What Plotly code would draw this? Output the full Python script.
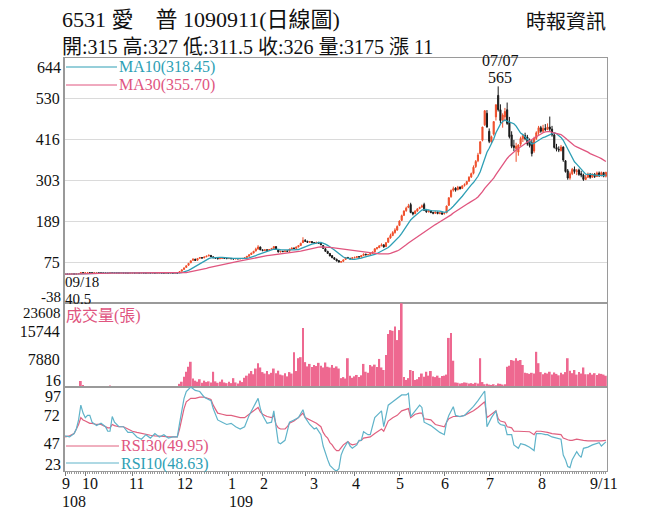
import pandas as pd
import plotly.graph_objects as go
from plotly.subplots import make_subplots

# page is 656x525; the browser puts the figure 8px in from the top-left corner
PAGE_OFF = 8
W, H = 656 - PAGE_OFF, 525 - PAGE_OFF
ML, MR, MT, MB = 64 - PAGE_OFF, 49, 58 - PAGE_OFF, 54

# ---------------- data ----------------
month_labels = ["9", "10", "11", "12", "1", "2", "3", "4", "5", "6", "7", "8"]
month_start_idx = [0, 9, 30, 51, 73, 88, 107, 129, 149, 169, 189, 212]
year_labels = ["108", "109"]
year_idx = [0, 73]
last_label = "9/11"

open_ = [
    41.5, 42.5, 42.0, 42.8, 43.0, 42.6, 43.2, 44.0, 46.5,
    45.8, 46.0, 46.5, 46.2, 45.8, 46.0, 46.3, 46.0, 45.7, 45.5, 45.2, 45.0, 46.8, 46.5, 46.2, 46.0, 45.8, 46.0, 45.6, 45.5, 45.3,
    45.5, 45.6, 45.4, 45.5, 45.3, 45.6, 45.4, 45.2, 45.5, 45.3, 45.4, 45.2, 45.3, 45.5, 45.2, 45.0, 45.3, 45.1, 45.2, 45.0, 45.2,
    46.0, 50.5, 55.5, 61.0, 67.0, 74.0, 81.0, 84.0, 81.0, 86.5, 88.5, 87.5, 90.5, 93.0, 94.5, 90.5, 88.0, 86.5, 85.0, 86.2, 87.5, 86.0,
    85.5, 86.0, 85.0, 84.5, 85.5, 84.8, 85.2, 86.0, 88.5, 92.0, 97.0, 101.0, 106.5, 112.0, 118.0,
    110, 108, 110, 109, 111, 114, 119, 111, 104, 106, 105, 107, 106, 112, 115, 114, 118, 122, 130,
    136, 134, 131, 133, 130, 129, 131, 128, 122, 113, 106, 100, 94, 88, 84, 80, 76, 78, 83, 89, 86, 85,
    88, 89, 91, 90, 94, 98, 96, 97, 100, 104, 113, 116, 121, 124, 119, 131, 143, 150, 158, 165,
    178, 192, 206, 219, 228, 236, 214, 211, 218, 225, 229, 236, 221, 216, 219, 214, 212, 215, 211, 213,
    211, 213, 234, 258, 276, 282, 277, 285, 281, 289, 293, 301, 313, 323, 342, 358, 378, 415, 458, 490,
    440, 410, 432, 480, 540, 500, 470, 480, 500, 465, 430, 400, 392, 382, 404, 420, 428, 424, 412, 408, 385, 420, 436,
    450, 440, 448, 445, 452, 446, 430, 395, 390, 386, 396, 358, 330, 310, 322, 334, 328, 332, 322, 318, 306,
    312, 320, 312, 320, 314, 324, 316, 325, 315,
]
high = [
    43.0, 42.8, 43.2, 43.5, 43.2, 43.6, 44.5, 47.0, 46.8,
    46.3, 46.8, 46.7, 46.4, 46.3, 46.6, 46.5, 46.2, 45.9, 45.7, 45.5, 47.2, 47.0, 46.7, 46.4, 46.2, 46.3, 46.2, 45.8, 45.7, 45.7,
    45.8, 45.8, 45.7, 45.6, 45.8, 45.8, 45.6, 45.7, 45.6, 45.6, 45.5, 45.5, 45.7, 45.6, 45.4, 45.5, 45.4, 45.4, 45.3, 45.4, 45.4,
    49.5, 54.4, 59.8, 65.8, 72.4, 79.6, 86.0, 85.0, 87.0, 90.0, 89.5, 91.0, 93.5, 96.5, 95.5, 91.5, 88.5, 87.0, 87.0, 88.5, 88.0, 86.5,
    86.5, 86.2, 85.5, 86.0, 85.8, 85.8, 86.5, 88.5, 93.0, 97.0, 102.0, 107.0, 116.0, 123.0, 119.0,
    111, 111, 111, 112, 115, 120, 120, 112, 107, 107, 108, 108, 113, 116, 116, 119, 123, 130, 145,
    140, 135, 134, 134, 131, 132, 132, 129, 123, 114, 107, 101, 95, 89, 85, 81, 79, 83, 90, 90, 88, 89,
    91, 92, 92, 95, 100, 99, 98, 101, 105, 114, 118, 123, 128, 125, 131, 143, 155, 162, 170, 178,
    192, 208, 220, 230, 238, 241, 216, 220, 226, 230, 236, 241, 224, 221, 220, 216, 217, 216, 215, 214,
    214, 233, 256, 278, 286, 284, 288, 286, 290, 295, 302, 315, 325, 345, 360, 380, 411, 452, 499, 499,
    448, 428, 467, 514, 565, 515, 490, 505, 520, 480, 440, 416, 408, 404, 425, 432, 436, 430, 420, 416, 425, 440, 455,
    455, 458, 460, 462, 481, 455, 436, 405, 398, 402, 398, 360, 335, 328, 338, 342, 335, 336, 330, 322, 318,
    325, 324, 323, 324, 328, 328, 328, 327, 327,
]
low = [
    40.5, 41.6, 41.8, 42.5, 42.3, 42.5, 43.0, 44.0, 45.5,
    45.5, 45.8, 46.0, 45.5, 45.6, 45.8, 45.8, 45.5, 45.2, 45.0, 44.8, 44.8, 46.2, 46.0, 45.8, 45.5, 45.6, 45.4, 45.3, 45.1, 45.1,
    45.3, 45.2, 45.2, 45.1, 45.1, 45.2, 45.0, 45.0, 45.1, 45.1, 45.0, 45.0, 45.1, 45.0, 44.8, 44.8, 44.9, 44.9, 44.8, 44.8, 44.9,
    45.8, 50.0, 55.0, 60.5, 66.5, 73.0, 79.5, 79.0, 80.5, 85.5, 86.0, 87.0, 90.0, 92.5, 90.0, 87.5, 85.5, 84.0, 84.5, 85.8, 85.5, 84.8,
    85.0, 84.5, 84.0, 84.3, 84.3, 84.5, 84.8, 85.5, 88.0, 91.5, 96.0, 100.5, 106.0, 111.0, 109.0,
    106, 107, 108, 108, 110, 113, 111, 103, 103, 104, 104, 105, 105, 111, 113, 113, 117, 121, 129,
    132, 130, 130, 129, 127, 128, 127, 123, 113, 104, 99, 92, 87, 82, 78, 75, 74, 76, 82, 85, 83, 84,
    86, 88, 89, 89, 93, 95, 95, 96, 99, 103, 111, 115, 120, 116, 118, 130, 141, 148, 155, 163,
    176, 190, 204, 216, 226, 212, 206, 209, 216, 223, 227, 218, 213, 214, 212, 209, 210, 209, 209, 207,
    208, 212, 232, 255, 272, 272, 276, 278, 280, 286, 290, 300, 310, 320, 338, 354, 376, 412, 455, 450,
    407, 405, 428, 470, 495, 462, 450, 468, 458, 420, 393, 385, 355, 372, 398, 410, 415, 400, 395, 370, 380, 416, 430,
    436, 436, 440, 443, 440, 425, 392, 384, 382, 384, 355, 325, 305, 305, 318, 322, 318, 316, 312, 302, 304,
    310, 308, 310, 310, 313, 313, 315, 312, 311.5,
]
close = [
    42.5, 42.0, 42.8, 43.0, 42.6, 43.2, 44.0, 46.5, 45.8,
    46.0, 46.5, 46.2, 45.8, 46.0, 46.3, 46.0, 45.7, 45.5, 45.2, 45.0, 46.8, 46.5, 46.2, 46.0, 45.8, 46.0, 45.6, 45.5, 45.3, 45.5,
    45.6, 45.4, 45.5, 45.3, 45.6, 45.4, 45.2, 45.5, 45.3, 45.4, 45.2, 45.3, 45.5, 45.2, 45.0, 45.3, 45.1, 45.2, 45.0, 45.2, 45.1,
    49.5, 54.4, 59.8, 65.8, 72.4, 79.6, 84.0, 80.5, 86.0, 88.5, 87.0, 90.0, 92.5, 95.0, 91.0, 88.0, 86.5, 85.0, 86.0, 87.5, 86.0, 85.5,
    86.0, 85.0, 84.5, 85.5, 84.8, 85.2, 86.0, 88.0, 92.0, 96.5, 101.0, 106.0, 112.0, 118.0, 110.0,
    108, 110, 109, 111, 114, 119, 112, 104, 106, 105, 107, 106, 112, 115, 114, 118, 122, 128, 136,
    134, 131, 133, 130, 129, 131, 128, 124, 114, 106, 100, 93, 88, 84, 79, 76, 77, 82, 88, 86, 85, 88,
    89, 91, 90, 94, 98, 96, 97, 100, 104, 113, 116, 121, 124, 118, 130, 143, 150, 158, 165, 175,
    190, 205, 218, 226, 232, 214, 210, 218, 224, 228, 232, 220, 216, 218, 214, 212, 215, 211, 213, 210,
    212, 232, 255, 275, 280, 276, 284, 280, 288, 292, 300, 312, 322, 340, 356, 374, 411, 452, 497, 452,
    412, 425, 467, 514, 500, 470, 485, 495, 462, 425, 398, 395, 398, 402, 420, 428, 420, 405, 400, 378, 420, 436, 450,
    440, 448, 445, 452, 446, 430, 395, 390, 388, 396, 360, 328, 310, 322, 334, 328, 330, 320, 318, 306, 312,
    320.5, 312, 320, 314, 324, 316, 325, 315, 326,
]
volume = [
    120, 80, 150, 100, 90, 140, 300, 1700, 600,
    250, 300, 180, 120, 150, 200, 140, 110, 100, 90, 120, 420, 260, 150, 120, 100, 140, 90, 80, 100, 110,
    90, 70, 80, 60, 100, 80, 70, 90, 60, 70, 60, 80, 90, 60, 50, 70, 60, 60, 50, 70, 60,
    900, 1500, 2900, 4300, 5700, 7100, 2400, 1800, 1500, 2200, 1200, 1800, 1400, 1600, 1300, 4300, 1600, 1200, 1500, 2100, 1300, 1100,
    1500, 1100, 2500, 1300, 1000, 1800, 1400, 2600, 3200, 3800, 4500, 3600, 5200, 6700, 5500,
    4200, 3800, 4500, 3600, 4000, 5200, 3900, 4600, 3500, 3300, 3900, 3000, 4200, 3800, 9800, 4500, 8100, 8400, 16600,
    7000, 5800, 6500, 5600, 6200, 5900, 6800, 6000, 5500, 6900, 5700, 5500, 6200, 5400, 5800, 5200, 2500, 2800, 2400, 8100, 3200, 2600,
    3000, 3400, 2800, 3300, 6500, 4300, 4000, 6200, 5800, 6300, 5600, 7900, 5500, 4800, 9000, 14900, 16000, 15800, 17000, 13200,
    16000, 23550, 2800, 2000, 2500, 4800, 4500, 2000, 2200, 2800, 3800, 2900, 4300, 3200, 4500, 3000, 2800, 3200, 2600, 3100,
    3200, 3500, 13800, 15200, 7400, 1300, 1200, 1000, 1100, 1300, 1200, 1000, 1100, 900, 1200, 1000, 8100, 1400, 800, 900,
    700, 600, 800, 500, 1000, 900, 700, 800, 5700, 6000, 7600, 7400, 8100, 7400, 7600, 6200, 4000, 3900, 3700, 4000, 3800, 9900, 6700,
    4200, 3600, 4000, 3800, 4300, 3500, 4100, 3700, 3300, 4000, 3600, 4200, 8100, 4600, 3900, 4800, 3500, 4200, 3800, 5500, 3600,
    3600, 4000, 3500, 3900, 3400, 3800, 3700, 3500, 3175,
]

rsi_idx = [0, 2, 4, 5, 6, 7, 8, 9, 10, 11, 12, 14, 16, 18, 19, 20, 21, 22, 24, 26, 28, 30, 32, 34, 36, 38, 40, 42, 44, 46, 48, 50,
           51, 52, 53, 54, 56, 58, 60, 62, 64, 65, 66, 67, 68, 70, 72, 74, 76, 78, 80, 82, 84, 86, 87, 88, 90, 92, 93, 94, 95, 96, 98, 99,
           100, 102, 104, 106, 107, 109, 111, 112, 114, 115, 116, 117, 118, 119, 120, 121, 122, 123, 124, 126, 127, 128, 130, 131, 132, 133,
           135, 136, 138, 140, 141, 142, 143, 144, 146, 148, 150, 152, 153, 154, 156, 158, 159, 160, 162, 163, 165, 167, 169, 170, 171, 173,
           174, 176, 178, 180, 182, 184, 186, 187, 188, 190, 192, 193, 194, 196, 197, 199, 200, 202, 203, 205, 207, 209, 210, 212, 214, 215,
           217, 219, 221, 222, 223, 224, 225, 226, 228, 229, 230, 231, 233, 235, 237, 238, 239, 240, 241]
rsi10 = [54, 53, 56, 60, 68, 81, 74, 70, 72, 72, 66, 63, 65, 62, 58, 58, 71, 66, 62, 62, 57, 57, 53, 51, 55, 52, 56, 53, 55, 52, 53, 53,
         65, 78, 87, 93, 97, 94, 93, 88, 86, 85, 78, 72, 68, 66, 64, 65, 62, 60, 62, 72, 80, 87, 78, 72, 65, 66, 76, 61, 48, 47, 50, 58,
         66, 68, 70, 77, 70, 64, 60, 61, 55, 45, 38, 33, 28, 26, 24, 23, 25, 37, 42, 49, 45, 43, 46, 50, 50, 57.6,
         55, 55, 70, 74, 76, 62, 72, 81, 84, 87, 90, 90, 91.4, 71, 76, 81, 79, 66, 64, 63, 60, 57, 55, 66, 72, 79.6,
         72, 71, 72, 76, 80, 85, 90, 93.5, 62, 70, 76, 66, 64, 63, 55, 55, 46, 43, 47, 46, 44, 41, 56, 56, 55, 55,
         53, 52, 51, 37, 33, 27, 26, 33, 40, 37, 35, 43, 44, 46, 47, 48, 45, 47, 48.63]
rsi30 = [53, 54, 56, 60, 64, 70, 68, 67, 66, 65, 65, 64, 64, 62, 61, 61, 64, 63, 62, 62, 60, 58, 57, 56, 55, 54.5, 54, 54, 53.5, 53, 53, 53,
         60, 70, 78, 84, 87, 87, 88, 88, 87, 86, 81, 77, 74, 73, 72, 72, 71, 70, 70, 73, 76, 79, 75, 73, 71, 70, 72, 64, 61, 60, 60, 62,
         65, 67, 70, 74, 70, 68, 66, 65, 62, 57, 54, 52, 48, 46, 43, 41, 41, 44, 46, 49, 47, 46, 47, 49.5, 50, 52,
         53, 53, 56, 59, 60, 58, 63, 67, 70, 72, 76, 77, 78, 70, 73, 74, 74, 69, 68, 68, 64, 63, 62, 66, 69, 71,
         71, 71, 72, 74, 76, 79, 82, 84, 70, 73, 76, 69, 67, 66, 62, 61, 58, 58, 58, 58, 57.6, 55, 58, 58, 57.6, 57,
         56, 55.5, 55, 52, 51, 50.5, 50, 50, 51, 50.5, 50, 50, 49.5, 49.5, 49.5, 49, 49.5, 49.8, 49.95]

price_ticks = [-38, 75.67, 189.33, 303, 416.67, 530.33, 644]
price_tick_text = ["-38", "75", "189", "303", "416", "530", "644"]
vol_ticks = [16, 7880, 15744, 23608]
rsi_ticks = [23, 47.67, 72.33, 97]
rsi_tick_text = ["23", "47", "72", "97"]

# ---------------- derived ----------------
idx = list(range(len(close)))
s = pd.Series(close)
ma10 = s.rolling(10, min_periods=1).mean()
ma30 = s.rolling(30, min_periods=1).mean()

RED = "#ef4f2c"
BLK = "#1a1a1a"
TEAL = "#2e9fb5"
PINK = "#e0557f"
VOLC = "#ee6890"
RSI_BLUE = "#5fb3c9"
RSI_PINK = "#e0607f"
GRID = "#dadada"
FRAME = "#9a9a9a"
SERIF = "Liberation Serif, Noto Sans CJK TC, serif"

PW = W - ML - MR
PH = H - MT - MB
PLOT_LEFT = ML + PAGE_OFF          # page pixel of plot-area left edge
PLOT_BOTTOM = MT + PAGE_OFF + PH   # page pixel of plot-area bottom edge


def px_x(X):
    """page pixel x -> paper"""
    return (X - PLOT_LEFT) / PW


def px_y(Y):
    """page pixel y -> paper"""
    return (PLOT_BOTTOM - Y) / PH


fig = make_subplots(rows=3, cols=1, shared_xaxes=True, vertical_spacing=0,
                    row_heights=[245, 84, 84])

fig.add_trace(go.Candlestick(
    x=idx, open=open_, high=high, low=low, close=close,
    increasing=dict(line=dict(color=RED, width=1), fillcolor=RED),
    decreasing=dict(line=dict(color=BLK, width=1), fillcolor=BLK),
    whiskerwidth=0, showlegend=False), row=1, col=1)
fig.add_trace(go.Scatter(x=idx, y=ma10, mode="lines", line=dict(color=TEAL, width=1.3),
                         showlegend=False), row=1, col=1)
fig.add_trace(go.Scatter(x=idx, y=ma30, mode="lines", line=dict(color=PINK, width=1.3),
                         showlegend=False), row=1, col=1)

fig.add_trace(go.Bar(x=idx, y=volume, marker=dict(color=VOLC, line=dict(width=0)),
                     showlegend=False), row=2, col=1)

fig.add_trace(go.Scatter(x=rsi_idx, y=rsi30, mode="lines", line=dict(color=RSI_PINK, width=1.2),
                         showlegend=False), row=3, col=1)
fig.add_trace(go.Scatter(x=rsi_idx, y=rsi10, mode="lines", line=dict(color=RSI_BLUE, width=1.2),
                         showlegend=False), row=3, col=1)

axis_common = dict(showline=True, mirror=True, linecolor=FRAME, linewidth=1,
                   zeroline=False, fixedrange=True)
for r in (1, 2, 3):
    fig.update_xaxes(range=[-0.5, len(close) - 0.5], showgrid=False, showticklabels=False,
                     rangeslider_visible=False, row=r, col=1, **axis_common)

fig.update_xaxes(row=3, col=1, tickmode="array", tickvals=month_start_idx, ticks="outside",
                 ticklen=4, tickcolor="#777",
                 minor=dict(tickmode="linear", tick0=0, dtick=1, ticks="outside",
                            ticklen=2, tickcolor="#999"))

tickfont = dict(family=SERIF, size=16, color="#111")
fig.update_yaxes(row=1, col=1, range=[price_ticks[0], price_ticks[-1]], tickmode="array",
                 tickvals=price_ticks[1:-1], ticktext=price_tick_text[1:-1],
                 showgrid=True, gridcolor=GRID, gridwidth=1, tickfont=tickfont, ticks="",
                 **axis_common)
fig.update_yaxes(row=2, col=1, range=[vol_ticks[0], vol_ticks[-1]], tickmode="array",
                 tickvals=vol_ticks[1:-1], ticktext=[str(v) for v in vol_ticks[1:-1]],
                 showgrid=False, tickfont=tickfont, ticks="", **axis_common)
fig.update_yaxes(row=3, col=1, range=[rsi_ticks[0], rsi_ticks[-1]], tickmode="array",
                 tickvals=rsi_ticks[1:-1], ticktext=rsi_tick_text[1:-1],
                 showgrid=False, tickfont=tickfont, ticks="", **axis_common)

ann = []


def text(x, y, t, size=16, color="#111", xanchor="left", yanchor="middle", xref="paper",
         yref="paper", xshift=0):
    ann.append(dict(x=x, y=y, xref=xref, yref=yref, text=t, showarrow=False,
                    xanchor=xanchor, yanchor=yanchor, xshift=xshift, borderpad=0,
                    font=dict(family=SERIF, size=size, color=color)))


# edge tick labels (shifted inward like the original)
text(px_x(62), px_y(67), price_tick_text[-1], xanchor="right")
text(px_x(62), px_y(297), price_tick_text[0], size=15, xanchor="right")
text(px_x(62), px_y(313), str(vol_ticks[-1]), size=15, xanchor="right")
text(px_x(62), px_y(380), str(vol_ticks[0]), xanchor="right")
text(px_x(62), px_y(396), rsi_tick_text[-1], xanchor="right")
text(px_x(62), px_y(464), rsi_tick_text[0], xanchor="right")

# titles
text(px_x(61), px_y(20), "6531 愛\u3000普 1090911(日線圖)", size=22)
text(px_x(61), px_y(47), "開:315 高:327 低:311.5 收:326 量:3175 漲 11", size=20)
text(px_x(566), px_y(22), "時報資訊", size=20, xanchor="center")

# legends
text(px_x(118), px_y(67), "MA10(318.45)", size=16, color=TEAL)
text(px_x(118), px_y(85), "MA30(355.70)", size=16, color=PINK)
text(px_x(65), px_y(316), "成交量(張)", size=16, color=PINK)
text(px_x(120), px_y(446), "RSI30(49.95)", size=16, color=PINK)
text(px_x(120), px_y(464), "RSI10(48.63)", size=16, color=TEAL)

# high / low markers
text(193, px_y(61), "07/07", size=16, xanchor="center", xref="x", xshift=2)
text(193, px_y(77), "565", size=16, xanchor="center", xref="x", xshift=2)
text(px_x(64), px_y(282), "09/18", size=15)
text(px_x(64), px_y(299), "40.5", size=15)

# x labels
for lab, i in zip(month_labels, month_start_idx):
    shift = 4 if lab == "3" else (-2 if lab == "1" else -4)
    text(i, px_y(483), lab, size=16, xanchor="left", xref="x3", xshift=shift)
text(len(close) - 1, px_y(483), last_label, size=16, xanchor="center", xref="x3", xshift=-2)
for lab, i in zip(year_labels, year_idx):
    text(i, px_y(501), lab, size=16, xanchor="left", xref="x3", xshift=(-4 if lab == "108" else -1))

shapes = [
    dict(type="line", xref="paper", yref="paper", x0=px_x(66), x1=px_x(117), y0=px_y(67), y1=px_y(67),
         line=dict(color=TEAL, width=1)),
    dict(type="line", xref="paper", yref="paper", x0=px_x(66), x1=px_x(117), y0=px_y(85), y1=px_y(85),
         line=dict(color=PINK, width=1)),
    dict(type="line", xref="paper", yref="paper", x0=px_x(66), x1=px_x(119), y0=px_y(446), y1=px_y(446),
         line=dict(color=RSI_PINK, width=1)),
    dict(type="line", xref="paper", yref="paper", x0=px_x(66), x1=px_x(119), y0=px_y(463), y1=px_y(463),
         line=dict(color=RSI_BLUE, width=1)),
    dict(type="line", xref="paper", yref="paper", x0=0, x1=0, y0=0, y1=1,
         line=dict(color="#999", width=2)),
]

fig.update_layout(width=W, height=H, margin=dict(l=ML, r=MR, t=MT, b=MB),
                  paper_bgcolor="white", plot_bgcolor="white", bargap=0.2,
                  annotations=ann, shapes=shapes, showlegend=False,
                  font=dict(family=SERIF, size=16, color="#111"))

fig.write_html("out.html")
